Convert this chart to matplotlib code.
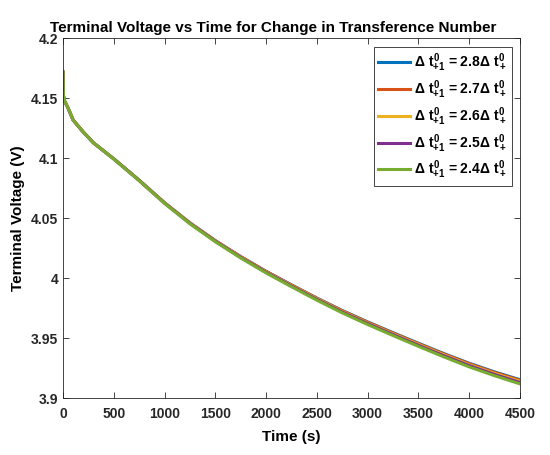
import matplotlib
matplotlib.use('Agg')
import matplotlib.pyplot as plt

plt.rcParams['font.family'] = ['Liberation Sans', 'DejaVu Sans']
plt.rcParams['font.weight'] = 'bold'
plt.rcParams['mathtext.fontset'] = 'custom'
plt.rcParams['mathtext.rm'] = 'Liberation Sans:bold'
plt.rcParams['mathtext.bf'] = 'Liberation Sans:bold'
plt.rcParams['mathtext.it'] = 'Liberation Sans:bold'

# time (s)
time = [0, 5, 15, 50, 100, 150, 200, 300, 500, 750, 1000, 1250, 1500, 1750,
        2000, 2250, 2500, 2750, 3000, 3250, 3500, 3750, 4000, 4250, 4500]

# terminal voltage (V) for each transference number change
v_28 = [4.172, 4.152, 4.148, 4.142, 4.132, 4.127, 4.122, 4.113, 4.0997,
        4.0819, 4.0631, 4.0463, 4.0315, 4.0182, 4.0059, 3.9946, 3.9836,
        3.9732, 3.9637, 3.9547, 3.9459, 3.9373, 3.9292, 3.9220, 3.9155]
v_27 = [4.172, 4.152, 4.148, 4.142, 4.132, 4.127, 4.122, 4.113, 4.0997,
        4.0818, 4.0630, 4.0462, 4.0314, 4.0180, 4.0057, 3.9944, 3.9833,
        3.9729, 3.9634, 3.9543, 3.9455, 3.9369, 3.9288, 3.9215, 3.9150]
v_26 = [4.172, 4.152, 4.148, 4.142, 4.132, 4.127, 4.122, 4.113, 4.0996,
        4.0817, 4.0629, 4.0460, 4.0311, 4.0177, 4.0053, 3.9940, 3.9829,
        3.9724, 3.9628, 3.9537, 3.9449, 3.9362, 3.9280, 3.9207, 3.9141]
v_25 = [4.172, 4.152, 4.148, 4.142, 4.132, 4.127, 4.122, 4.113, 4.0996,
        4.0816, 4.0627, 4.0458, 4.0309, 4.0174, 4.0050, 3.9936, 3.9824,
        3.9719, 3.9623, 3.9531, 3.9442, 3.9355, 3.9273, 3.9199, 3.9132]
v_24 = [4.172, 4.152, 4.148, 4.142, 4.132, 4.127, 4.122, 4.113, 4.0995,
        4.0815, 4.0625, 4.0455, 4.0305, 4.0170, 4.0045, 3.9930, 3.9818,
        3.9712, 3.9615, 3.9523, 3.9433, 3.9345, 3.9262, 3.9188, 3.9120]

series = [v_28, v_27, v_26, v_25, v_24]
factors = ['2.8', '2.7', '2.6', '2.5', '2.4']
colors = ['#0072BD', '#D95319', '#EDB120', '#7E2F8E', '#77AC30']

fig = plt.figure(figsize=(5.5, 4.55), dpi=100)
ax = fig.add_axes([0.1145, 0.1246, 0.8310, 0.7908])

for v, f, c in zip(series, factors, colors):
    ax.plot(time, v, color=c, linewidth=2.2,
            label=r'$\Delta\ t^0_{+1}$ = ' + f + r'$\Delta\ t^0_+$')

ax.set_xlim(0, 4500)
ax.set_ylim(3.9, 4.2)
ax.set_xticks(range(0, 4501, 500))
ax.set_yticks([3.9, 3.95, 4.0, 4.05, 4.1, 4.15, 4.2])
ax.set_yticklabels(['3.9', '3.95', '4', '4.05', '4.1', '4.15', '4.2'])
ax.tick_params(direction='in', top=True, right=True, labelsize=10,
               length=4, width=0.6, colors='#262626')
ax.tick_params(axis='x', pad=6)
for s in ax.spines.values():
    s.set_color('#262626')
    s.set_linewidth(0.6)

ax.set_xlabel('Time (s)', fontsize=11, fontweight='bold', labelpad=7)
ax.set_ylabel('Terminal Voltage (V)', fontsize=11, fontweight='bold')
ax.set_title('Terminal Voltage vs Time for Change in Transference Number',
             fontsize=11, fontweight='bold', pad=5, x=0.46)

leg = ax.legend(loc='upper right', fontsize=10, frameon=True, fancybox=False,
                framealpha=1, edgecolor='#262626', handlelength=2.3,
                handletextpad=0.25, borderaxespad=0.6, labelspacing=0.3,
                borderpad=0.35)
leg.get_frame().set_linewidth(0.6)

fig.savefig('out.png', dpi=100)
